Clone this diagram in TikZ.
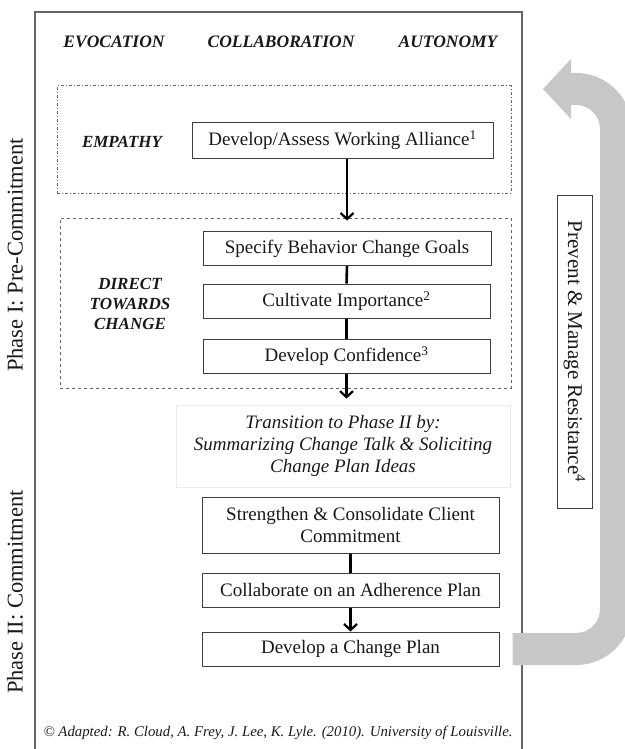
\documentclass[tikz,border=0pt]{standalone}
\usepackage{fontspec}
\setmainfont{Liberation Serif}
\usetikzlibrary{arrows.meta,positioning}

\begin{document}
\begin{tikzpicture}[
    x=1pt, y=-1pt,
    every node/.style={text=black!90},
    stepbox/.style={
        draw=black!75, line width=1pt, fill=white,
        font=\fontsize{19}{22}\selectfont,
        align=center, inner sep=0pt,
        minimum height=34pt
    },
    zonebox/.style={draw=black!60, line width=1pt, inner sep=0pt},
    zonelabel/.style={font=\fontsize{17}{20}\selectfont\bfseries\itshape, align=center},
    header/.style={font=\fontsize{17.5}{20}\selectfont\bfseries\itshape},
    phase/.style={font=\fontsize{22.5}{26}\selectfont, rotate=90},
    flow/.style={line width=2.6pt,
        -{Straight Barb[length=6pt 0 0,width=13pt 0 0,line width=2.2pt]}},
    link/.style={line width=2.6pt},
    resistloop/.style={line width=32pt, draw=black!22, rounded corners=40pt,
        -{Triangle[length=28pt 0 0,width=60pt 0 0,line width=0pt]}}
]
\useasboundingbox (0,0) rectangle (624,749);

% outer frame
\draw[draw=black!60, line width=1.6pt] (35,12) rectangle (522,775);

\node[header] (evocation) at (114,42) {EVOCATION};
\node[header] (collaboration) at (281,42) {COLLABORATION};
\node[header] (autonomy) at (448,42) {AUTONOMY};

% phase I
\node[zonebox, dashdotted, minimum width=454pt, minimum height=107pt] (empathy) at (284,139.5) {};
\node[zonelabel] (empathylabel) at (122,142) {EMPATHY};
\node[stepbox, minimum width=301pt, minimum height=35pt] (assess) at (342.5,140.5)
    {Develop/Assess Working Alliance\textsuperscript{1}};

\node[zonebox, dashed, minimum width=451pt, minimum height=170pt] (direct) at (285.5,303) {};
\node[zonelabel] (directlabel) at (130,304) {DIRECT\\TOWARDS\\CHANGE};
\node[stepbox, minimum width=288pt] (specify) at (347,248.5) {Specify Behavior Change Goals};
\node[stepbox, minimum width=287pt] (cultivate) at (346.5,301) {Cultivate Importance\textsuperscript{2}};
\node[stepbox, minimum width=287pt] (confidence) at (346.5,356) {Develop Confidence\textsuperscript{3}};

% transition
\node[draw=black!8, line width=0.8pt, minimum width=334pt, minimum height=82pt,
    font=\fontsize{19}{22}\selectfont\itshape, align=center, inner sep=0pt] (transition) at (343,446)
    {Transition to Phase II by:\\Summarizing Change Talk \& Soliciting\\Change Plan Ideas};

% phase II
\node[stepbox, minimum width=297pt, minimum height=56pt] (strengthen) at (350.5,525)
    {Strengthen \& Consolidate Client\\Commitment};
\node[stepbox, minimum width=297pt] (collaborate) at (350.5,590) {Collaborate on an Adherence Plan};
\node[stepbox, minimum width=297pt] (changeplan) at (350.5,649) {Develop a Change Plan};

% resistance loop
\coordinate (loopstart) at ([xshift=13pt]changeplan.east);
\coordinate (looptop) at (616,89);
\coordinate (looptip) at (543,89);
\draw[resistloop] (loopstart) -| (looptop) -- (looptip);

\node[stepbox, font=\fontsize{21}{24}\selectfont, rotate=-90, minimum width=313pt, minimum height=35pt]
    (resist) at (574.5,351.5) {Prevent \& Manage Resistance\textsuperscript{4}};

\node[phase] (phaseone) at (15,255) {Phase I: Pre-Commitment};
\node[phase] (phasetwo) at (15,592) {Phase II: Commitment};

\node[font=\fontsize{14.8}{17}\selectfont\itshape] (credit) at (278,733)
    {\textcopyright{} Adapted: R. Cloud, A. Frey, J. Lee, K. Lyle. (2010). University of Louisville.};

% connectors
\draw[flow, shorten >=-3pt] (assess.south -| specify) -- (direct.north -| specify);
\draw[link] (specify.south) -- (cultivate.north);
\draw[link] (cultivate.south) -- (confidence.north);
\draw[flow, shorten >=6pt] (confidence.south) -- (transition.north -| confidence);
\draw[link] (strengthen.south) -- (collaborate.north);
\draw[flow] (collaborate.south) -- (changeplan.north);
\end{tikzpicture}
\end{document}
